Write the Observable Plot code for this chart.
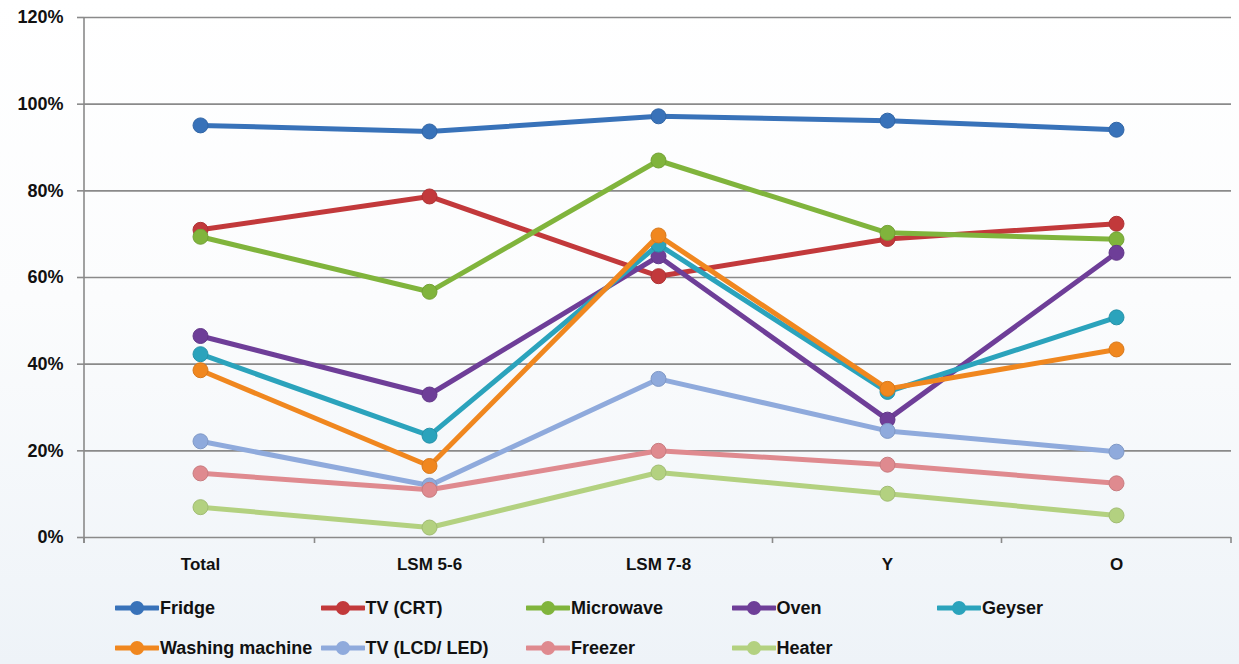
<!DOCTYPE html>
<html>
<head>
<meta charset="utf-8">
<script src="https://cdn.jsdelivr.net/npm/d3@7"></script>
<script src="https://cdn.jsdelivr.net/npm/@observablehq/plot@0.6"></script>
<style>
  html, body { margin: 0; padding: 0; }
  body {
    width: 1239px; height: 664px; overflow: hidden;
    background: linear-gradient(to bottom, #ffffff 0%, #fbfcfd 45%, #eef3f8 100%);
    font-family: "Liberation Sans", Arial, sans-serif;
  }
  #chart svg { display: block; background: transparent; }
  #legend { position: relative; height: 84px; }
  .item { position: absolute; display: flex; align-items: center; font-weight: bold; font-size: 18px; color: #111; white-space: nowrap; }
  .item svg { display: block; margin-right: 1px; }
</style>
</head>
<body>
<div id="chart"></div>
<div id="legend"></div>
<script>
const categories = ["Total", "LSM 5-6", "LSM 7-8", "Y", "O"];
const seriesNames = ["Fridge", "TV (CRT)", "Microwave", "Oven", "Geyser", "Washing machine", "TV (LCD/ LED)", "Freezer", "Heater"];
const seriesColors = ["#3872b9", "#c2393b", "#80b43c", "#6e3e98", "#2ba3bc", "#f0871f", "#8faadc", "#df8a8f", "#b3d180"];
const fridge    = [95.1, 93.7, 97.2, 96.2, 94.1];
const tvCrt     = [71.0, 78.7, 60.3, 68.9, 72.4];
const microwave = [69.4, 56.7, 87.0, 70.3, 68.8];
const oven      = [46.5, 33.0, 64.9, 27.2, 65.7];
const geyser    = [42.3, 23.5, 67.6, 33.6, 50.8];
const washing   = [38.6, 16.5, 69.7, 34.3, 43.4];
const tvLcd     = [22.2, 12.0, 36.6, 24.6, 19.8];
const freezer   = [14.8, 11.0, 20.0, 16.8, 12.5];
const heater    = [7.0, 2.3, 15.0, 10.1, 5.1];
const yTicks = [0, 20, 40, 60, 80, 100, 120];

const seriesValues = [fridge, tvCrt, microwave, oven, geyser, washing, tvLcd, freezer, heater];
const rows = seriesNames.map((name, s) => categories.map((c, i) => ({series: name, cat: c, value: seriesValues[s][i]})));

// axis frame lines (left axis line + bottom ticks at band boundaries)
function axisFrame(index, scales, values, dims) {
  const ns = "http://www.w3.org/2000/svg";
  const g = document.createElementNS(ns, "g");
  const x = scales.x, y = scales.y;
  const left = dims.marginLeft, right = dims.width - dims.marginRight;
  const y0 = y(0), yTop = y(120);
  const line = (x1, y1, x2, y2) => {
    const l = document.createElementNS(ns, "line");
    l.setAttribute("x1", x1); l.setAttribute("y1", y1);
    l.setAttribute("x2", x2); l.setAttribute("y2", y2);
    l.setAttribute("stroke", "#8a8a8a"); l.setAttribute("stroke-width", 1.6);
    g.appendChild(l);
  };
  line(left, yTop, left, y0 + 6);
  const pos = categories.map(c => x(c));
  const bounds = [left];
  for (let i = 0; i < pos.length - 1; i++) bounds.push((pos[i] + pos[i + 1]) / 2);
  bounds.push(right);
  bounds.forEach(b => line(b, y0, b, y0 + 6));
  return g;
}

const marks = [
  Plot.ruleY(yTicks, {stroke: "#8a8a8a", strokeWidth: 1.6, strokeOpacity: 1}),
  Plot.axisY(yTicks, {label: null, tickSize: 7, tickPadding: 14, tickFormat: d => d + "%", fontSize: 18, fontWeight: "bold", fill: "#111", stroke: "#8a8a8a", strokeWidth: 1.6}),
  Plot.axisX(categories, {label: null, tickSize: 0, tickPadding: 20, fontSize: 17, fontWeight: "bold", fill: "#111"}),
  axisFrame
];
rows.forEach((data, s) => {
  marks.push(Plot.line(data, {x: "cat", y: "value", stroke: seriesColors[s], strokeWidth: 5, strokeLinejoin: "round"}));
  marks.push(Plot.dot(data, {x: "cat", y: "value", r: 7.5, fill: seriesColors[s], stroke: d3.color(seriesColors[s]).darker(0.3).formatHex(), strokeWidth: 1}));
});

const chart = Plot.plot({
  width: 1239,
  height: 580,
  marginTop: 17,
  marginBottom: 43,
  marginLeft: 84,
  marginRight: 8,
  style: {background: "transparent", fontFamily: "'Liberation Sans', Arial, sans-serif"},
  x: {type: "point", domain: categories, padding: 0.5, axis: null, label: null},
  y: {domain: [0, 120], axis: null, label: null},
  marks
});
document.getElementById("chart").appendChild(chart);

// legend
const legend = document.getElementById("legend");
seriesNames.forEach((name, s) => {
  const col = s % 5, row = Math.floor(s / 5);
  const item = document.createElement("div");
  item.className = "item";
  item.style.left = (115 + col * 205.5) + "px";
  item.style.top = (28 + row * 40 - 11) + "px";
  const c = seriesColors[s];
  item.innerHTML = `<svg width="44" height="22"><line x1="1" y1="11" x2="43" y2="11" stroke="${c}" stroke-width="5" stroke-linecap="round"/><circle cx="22" cy="11" r="7" fill="${c}"/></svg><span>${name}</span>`;
  legend.appendChild(item);
});
</script>
</body>
</html>
